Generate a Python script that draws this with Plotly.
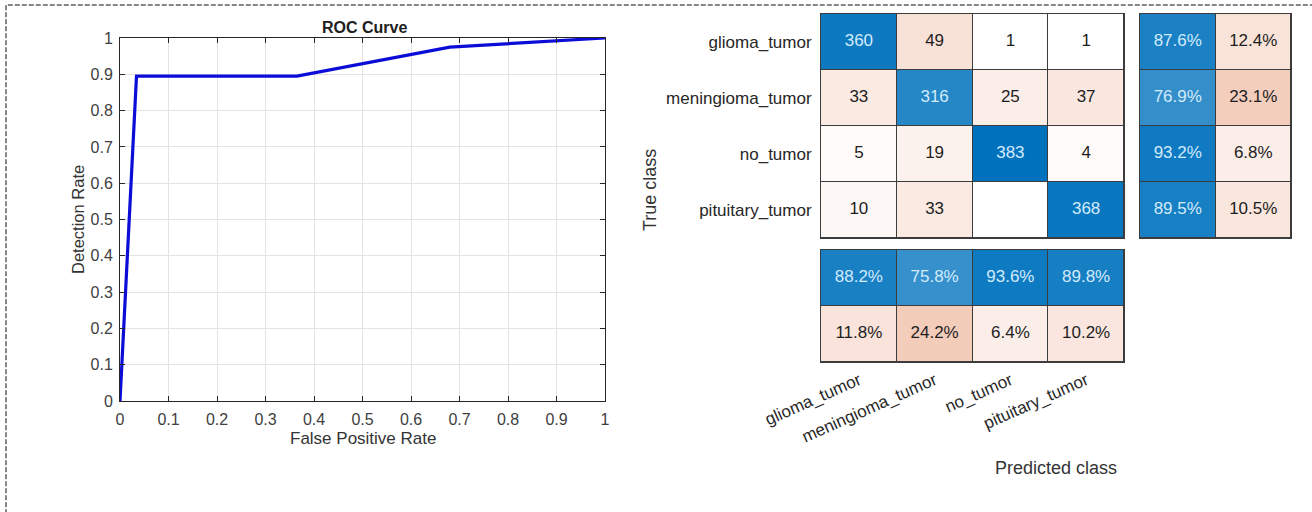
import plotly.graph_objects as go

# ---------------- data ----------------
fpr = [0.0, 0.034, 0.365, 0.68, 1.0]
tpr = [0.0, 0.895, 0.895, 0.975, 1.0]

classes = ["glioma_tumor", "meningioma_tumor", "no_tumor", "pituitary_tumor"]
cm = [[360, 49, 1, 1],
      [33, 316, 25, 37],
      [5, 19, 383, 4],
      [10, 33, 0, 368]]
row_correct = [87.6, 76.9, 93.2, 89.5]
row_wrong = [12.4, 23.1, 6.8, 10.5]
col_correct = [88.2, 75.8, 93.6, 89.8]
col_wrong = [11.8, 24.2, 6.4, 10.2]

# ---------------- helpers ----------------
W, H = 1312, 512
def px(x):
    return x / W
def py(y):
    return 1 - y / H

GAMMA = 0.85
def shade(t, good):
    v = t ** GAMMA if t > 0 else 0.0
    return v if good else -v

DARK_TXT = "#1e1e1e"
LIGHT_TXT = "#d2ebfb"
CS = [[0.0, "rgb(217,83,25)"], [0.5, "rgb(255,255,255)"], [1.0, "rgb(0,114,189)"]]
EDGE = "#3c3c3c"
FONT = "Liberation Sans, Arial"

fig = go.Figure()

# ---------------- ROC ----------------
fig.add_trace(go.Scatter(x=fpr, y=tpr, mode="lines",
                         line=dict(color="#0c0cd8", width=3.2),
                         xaxis="x", yaxis="y", hoverinfo="skip"))

# ---------------- confusion matrix ----------------
maxv = max(max(r) for r in cm)
n = len(classes)
z_main, txt_main, col_main, xs, ys = [], [], [], [], []
for i in range(n):
    zr = []
    for j in range(n):
        v = cm[i][j]
        t = v / maxv
        zr.append(shade(t, i == j))
        xs.append(j)
        ys.append(i)
        txt_main.append(str(v) if v != 0 else "")
        col_main.append(LIGHT_TXT if (i == j and t > 0.5) else DARK_TXT)
    z_main.append(zr)

fig.add_trace(go.Heatmap(z=z_main, x=list(range(n)), y=list(range(n)),
                         colorscale=CS, zmin=-1, zmax=1, showscale=False,
                         xgap=1, ygap=1, xaxis="x2", yaxis="y2", hoverinfo="skip"))
fig.add_trace(go.Scatter(x=xs, y=ys, mode="text", text=txt_main,
                         textfont=dict(size=17, color=col_main, family=FONT),
                         xaxis="x2", yaxis="y2", hoverinfo="skip"))

# row summary (right)
z_row, t_row, c_row, xr, yr = [], [], [], [], []
for i in range(n):
    z_row.append([shade(row_correct[i] / 100, True), shade(row_wrong[i] / 100, False)])
    for j, (val, good) in enumerate([(row_correct[i], True), (row_wrong[i], False)]):
        xr.append(j)
        yr.append(i)
        t_row.append(f"{val:.1f}%")
        c_row.append(LIGHT_TXT if (good and val > 50) else DARK_TXT)
fig.add_trace(go.Heatmap(z=z_row, x=[0, 1], y=list(range(n)),
                         colorscale=CS, zmin=-1, zmax=1, showscale=False,
                         xgap=1, ygap=1, xaxis="x3", yaxis="y3", hoverinfo="skip"))
fig.add_trace(go.Scatter(x=xr, y=yr, mode="text", text=t_row,
                         textfont=dict(size=17, color=c_row, family=FONT),
                         xaxis="x3", yaxis="y3", hoverinfo="skip"))

# column summary (bottom)
z_col = [[shade(v / 100, True) for v in col_correct],
         [shade(v / 100, False) for v in col_wrong]]
t_col, c_col, xc, yc = [], [], [], []
for r, (vals, good) in enumerate([(col_correct, True), (col_wrong, False)]):
    for j, val in enumerate(vals):
        xc.append(j)
        yc.append(r)
        t_col.append(f"{val:.1f}%")
        c_col.append(LIGHT_TXT if (good and val > 50) else DARK_TXT)
fig.add_trace(go.Heatmap(z=z_col, x=list(range(n)), y=[0, 1],
                         colorscale=CS, zmin=-1, zmax=1, showscale=False,
                         xgap=1, ygap=1, xaxis="x4", yaxis="y4", hoverinfo="skip"))
fig.add_trace(go.Scatter(x=xc, y=yc, mode="text", text=t_col,
                         textfont=dict(size=17, color=c_col, family=FONT),
                         xaxis="x4", yaxis="y4", hoverinfo="skip"))

# ---------------- layout ----------------
roc_tick = dict(size=16, color="#404040", family=FONT)
roc_axis = dict(range=[0, 1], dtick=0.1, tick0=0, showgrid=True, gridcolor="#e3e3e3",
                zeroline=False, showline=True, linecolor="#262626", linewidth=1,
                mirror="ticks", ticks="inside", ticklen=5, tickcolor="#262626",
                tickfont=roc_tick, fixedrange=True, automargin=False)

cm_axis_common = dict(showgrid=False, zeroline=False, showline=True, mirror=True,
                      linecolor=EDGE, linewidth=1, fixedrange=True, ticks="",
                      automargin=False)

fig.update_layout(
    width=W, height=H, autosize=False,
    margin=dict(l=0, r=0, t=0, b=0, pad=0, autoexpand=False),
    paper_bgcolor="white", plot_bgcolor="white",
    showlegend=False,
    font=dict(family=FONT, color="#262626"),
    xaxis=dict(domain=[px(120), px(605)], anchor="y", ticklabelstandoff=4, **roc_axis),
    yaxis=dict(domain=[py(401), py(38)], anchor="x", ticklabelstandoff=3, **roc_axis),
    xaxis2=dict(domain=[px(821), px(1124)], anchor="y2", range=[-0.5, n - 0.5],
                showticklabels=False, **cm_axis_common),
    yaxis2=dict(domain=[py(238), py(14)], anchor="x2", range=[n - 0.5, -0.5],
                tickvals=list(range(n)), ticktext=classes, ticklabelstandoff=5,
                tickfont=dict(size=17, color="#262626", family=FONT), **cm_axis_common),
    xaxis3=dict(domain=[px(1140), px(1291)], anchor="y3", range=[-0.5, 1.5],
                showticklabels=False, **cm_axis_common),
    yaxis3=dict(domain=[py(238), py(14)], anchor="x3", range=[n - 0.5, -0.5],
                showticklabels=False, **cm_axis_common),
    xaxis4=dict(domain=[px(821), px(1124)], anchor="y4", range=[-0.5, n - 0.5],
                tickvals=list(range(n)), ticktext=classes, tickangle=-24,
                ticklabelstandoff=1,
                tickfont=dict(size=17, color="#262626", family=FONT), **cm_axis_common),
    yaxis4=dict(domain=[py(362), py(250)], anchor="x4", range=[1.5, -0.5],
                showticklabels=False, **cm_axis_common),
)

# dark backgrounds under the heatmaps so the gaps read as cell borders
for xr_, yr_ in [("x2 domain", "y2 domain"), ("x3 domain", "y3 domain"), ("x4 domain", "y4 domain")]:
    fig.add_shape(type="rect", xref=xr_, yref=yr_, x0=0, x1=1, y0=0, y1=1,
                  fillcolor=EDGE, line=dict(width=0), layer="below")

# dashed figure frame
fig.add_shape(type="rect", xref="paper", yref="paper",
              x0=px(6), x1=1.05, y0=-0.05, y1=py(5),
              line=dict(color="#111111", width=1, dash="5px,2px"), fillcolor="rgba(0,0,0,0)")

ann = [
    dict(text="<b>ROC Curve</b>", x=px(364), y=py(27), font=dict(size=16, color="#202020")),
    dict(text="Detection Rate", x=px(78), y=py(220), textangle=-90, font=dict(size=16.5, color="#333333")),
    dict(text="False Positive Rate", x=px(363), y=py(438), font=dict(size=17, color="#333333")),
    dict(text="True class", x=px(650), y=py(190), textangle=-90, font=dict(size=18, color="#333333")),
    dict(text="Predicted class", x=px(1056), y=py(468), font=dict(size=18, color="#333333")),
]
for a in ann:
    fig.add_annotation(xref="paper", yref="paper", showarrow=False,
                       xanchor="center", yanchor="middle", **a)

fig.write_html("out.html", config={"displayModeBar": False, "responsive": False},
               post_script="document.body.style.margin='0';document.body.style.overflow='hidden';")
